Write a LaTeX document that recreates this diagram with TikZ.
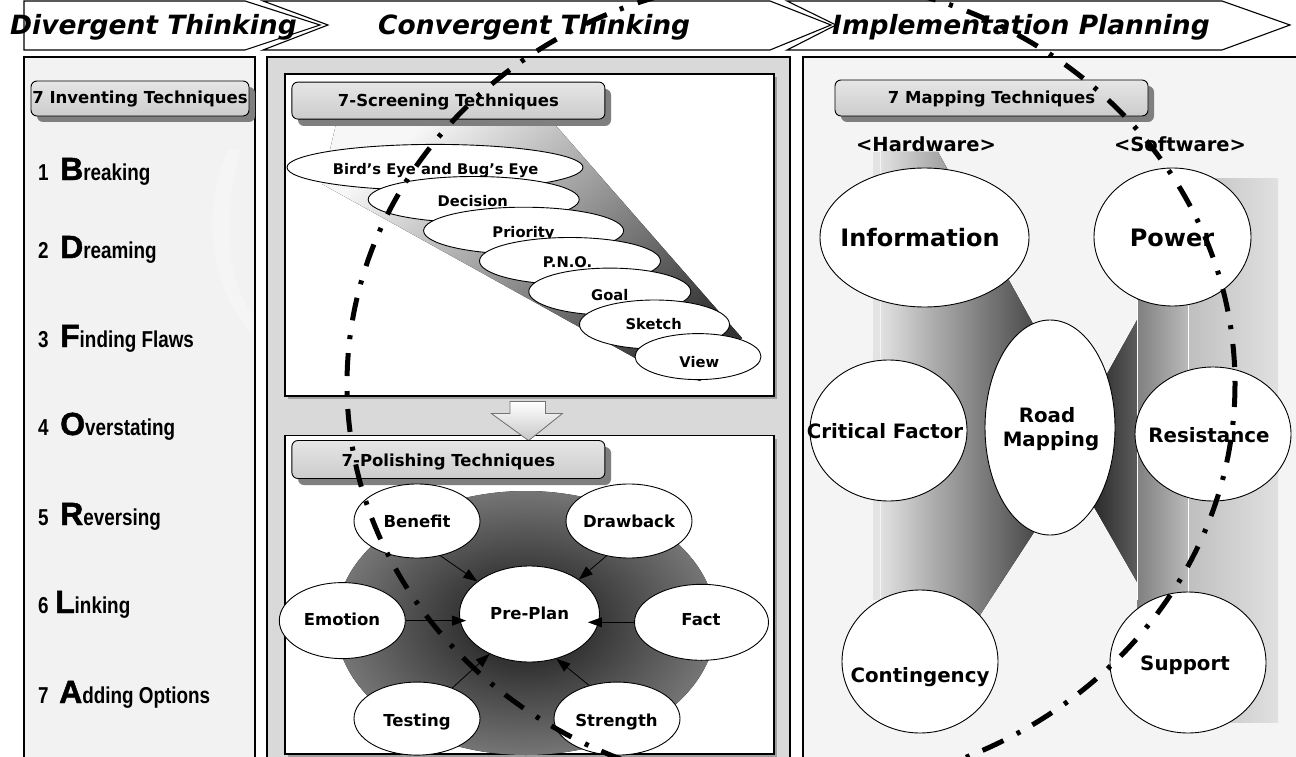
\documentclass[tikz,border=0pt]{standalone}
\usepackage{fontspec}
\setmainfont{DejaVu Sans}
\newfontfamily\narrowfont[FakeStretch=0.82]{Liberation Sans}
\newfontface\bigface[FakeBold=1.5]{Liberation Sans Bold}
\usetikzlibrary{shapes.geometric,arrows.meta}
\definecolor{lpanel}{HTML}{F2F2F2}
\definecolor{mpanel}{HTML}{D9D9D9}
\definecolor{rpanel}{HTML}{F4F4F4}
\definecolor{tshad}{HTML}{7F7F7F}
\pgfdeclareradialshading{glow}{\pgfpoint{0bp}{0bp}}{color(0bp)=(black!85); color(8bp)=(black!80); color(50bp)=(black!16)}
\newcommand\hdrfont{\bfseries\itshape\fontsize{26.5}{30}\selectfont}
\newcommand\ttlfont{\bfseries\fontsize{16.5}{18}\selectfont}
\newcommand\scrfont{\bfseries\fontsize{14.7}{16}\selectfont}
\newcommand\bigmapfont{\bfseries\fontsize{24}{26}\selectfont}
\newcommand\mapfont{\bfseries\fontsize{19.8}{22}\selectfont}
\newcommand\listitem[3]{\narrowfont\bfseries\fontsize{23}{23}\selectfont\makebox[#1][l]{#2}{\bigface\fontsize{32}{32}\selectfont #3}}
\begin{document}
\begin{tikzpicture}[x=1pt,y=-1pt,
  ell/.style={ellipse, draw=black, fill=white, line width=0.9pt, inner sep=0pt},
  hdr/.style={draw=black, fill=white, line width=1.1pt, line join=miter},
  panel/.style={draw=black, line width=2.2pt},
  tbox/.style={rectangle, draw=black, top color=black!10, bottom color=black!20, rounded corners=6pt, line width=0.9pt, inner sep=0pt},
  tshadow/.style={fill=tshad, rounded corners=6pt},
  lbl/.style={inner sep=0pt, anchor=base},
  parr/.style={line width=0.8pt, -{Triangle[length=14pt,width=10pt]}},
  wbox/.style={draw=black, fill=white, line width=1.1pt},
  bshadow/.style={fill=gray!75}
]
\useasboundingbox (0,0) rectangle (1296,757);
\clip (0,0) rectangle (1296,757);
\fill[white] (0,0) rectangle (1296,757);

% ---------------- header chevrons ----------------
\draw[hdr] (24,1) -- (245,1) -- (320,25) -- (245,50) -- (24,50) -- cycle;
\draw[hdr] (263,1) -- (770,1) -- (831,25) -- (770,50) -- (263,50) -- (328,25) -- cycle;
\draw[hdr] (787,1) -- (1222,1) -- (1290,25) -- (1222,50) -- (787,50) -- (836,25) -- cycle;
\node[lbl, anchor=base west] (hd1) at (10,35) {\hdrfont Divergent Thinking};
\node[lbl, anchor=base west] (hd2) at (378,35) {\hdrfont Convergent Thinking};
\node[lbl, anchor=base west] (hd3) at (832,35) {\hdrfont Implementation Planning};

% ---------------- panels ----------------
\draw[panel, fill=lpanel] (24,57) rectangle (255,775);
\draw[panel, fill=mpanel] (267,57) rectangle (790,775);
\draw[panel, fill=rpanel] (803,57) rectangle (1310,775);

% faint light swoosh in left panel
\fill[white, opacity=0.3] (228,150) .. controls (200,210) and (210,290) .. (253,335) -- (253,315) .. controls (224,280) and (224,212) .. (240,150) -- cycle;

% ---------------- left panel ----------------
\fill[tshadow] (37,87) rectangle (255,122);
\node[tbox, minimum width=218pt, minimum height=35pt] (invbox) at (140,98.5) {};
\node[lbl] (invtxt) at (140,104) {\ttlfont 7 Inventing Techniques};

\node[lbl, anchor=base west] (i1) at (38,180) {\listitem{22pt}{1}{B}reaking};
\node[lbl, anchor=base west] (i2) at (38,258) {\listitem{22pt}{2}{D}reaming};
\node[lbl, anchor=base west] (i3) at (38,347) {\listitem{22pt}{3}{F}inding Flaws};
\node[lbl, anchor=base west] (i4) at (38,435) {\listitem{22pt}{4}{O}verstating};
\node[lbl, anchor=base west] (i5) at (38,525) {\listitem{22pt}{5}{R}eversing};
\node[lbl, anchor=base west] (i6) at (38,613) {\listitem{17pt}{6}{L}inking};
\node[lbl, anchor=base west] (i7) at (38,703) {\listitem{21pt}{7}{A}dding Options};

% ---------------- middle panel: screening ----------------
\fill[bshadow] (288,77) rectangle (777,399);
\draw[wbox] (285,74) rectangle (774,396);
\fill[top color=black!3, bottom color=black!80, shading angle=40] (337,120) -- (551,120) -- (742,338) -- (700,381) -- (635,358) -- (322,184) -- cycle;
\fill[tshadow] (298,89) rectangle (611,126);
\node[tbox, minimum width=313pt, minimum height=37pt] (scrbox) at (448.4,100.6) {};
\node[lbl] (scrtxt) at (448.4,106.5) {\ttlfont 7-Screening Techniques};

\node[ell, minimum width=296pt, minimum height=46pt] (sc1) at (435,167.4) {};
\node[lbl] (sc1t) at (435.6,175) {\scrfont Bird’s Eye and Bug’s Eye};
\node[ell, minimum width=211pt, minimum height=46pt] (sc2) at (473.7,199.5) {};
\node[lbl] (sc2t) at (472.8,206) {\scrfont Decision};
\node[ell, minimum width=200pt, minimum height=47pt] (sc3) at (523.6,230.7) {};
\node[lbl] (sc3t) at (523.5,237.5) {\scrfont Priority};
\node[ell, minimum width=181pt, minimum height=47pt] (sc4) at (570,261) {};
\node[lbl] (sc4t) at (567.5,267) {\scrfont P.N.O.};
\node[ell, minimum width=162pt, minimum height=47pt] (sc5) at (609.8,291.6) {};
\node[lbl] (sc5t) at (609.8,300) {\scrfont Goal};
\node[ell, minimum width=150pt, minimum height=49pt] (sc6) at (654.5,324.5) {};
\node[lbl] (sc6t) at (653.7,329.4) {\scrfont Sketch};
\node[ell, minimum width=126pt, minimum height=46pt] (sc7) at (698,356.6) {};
\node[lbl] (sc7t) at (699.3,367.6) {\scrfont View};

% ---------------- middle panel: polishing ----------------
\fill[bshadow] (288,439) rectangle (777,760);
\draw[wbox] (285,435.5) rectangle (774,754);
\fill[top color=white, bottom color=black!22, draw=black!55, line width=0.8pt]
  (510,401.5) -- (545.5,401.5) -- (545.5,413.5) -- (562.4,413.5) -- (528.6,440.6) -- (491.4,413.5) -- (510,413.5) -- cycle;
\fill[tshadow] (298,447) rectangle (611,485);
\node[tbox, minimum width=313pt, minimum height=38pt] (polbox) at (448.4,459.5) {};
\node[lbl] (poltxt) at (448.4,466.6) {\ttlfont 7-Polishing Techniques};

\fill[shading=glow] (526,623) ellipse [x radius=190, y radius=132];

\node[ell, minimum width=140pt, minimum height=96pt] (preplan) at (529.5,614) {};
\node[ell, minimum width=126pt, minimum height=74pt] (benefit) at (417,521) {};
\node[ell, minimum width=126pt, minimum height=74pt] (drawback) at (629,521) {};
\node[ell, minimum width=126pt, minimum height=76pt] (emotion) at (342.3,620.6) {};
\node[ell, minimum width=134pt, minimum height=76pt] (fact) at (701.5,622.3) {};
\node[ell, minimum width=126pt, minimum height=73pt] (testing) at (417,718.6) {};
\node[ell, minimum width=126pt, minimum height=73pt] (strength) at (617,718.6) {};
\node[lbl] (preplant) at (529.6,619.7) {\ttlfont Pre-Plan};
\node[lbl] (benefitt) at (417,527.8) {\ttlfont Benefit};
\node[lbl] (drawbackt) at (629,527.8) {\ttlfont Drawback};
\node[lbl] (emotiont) at (342,625.8) {\ttlfont Emotion};
\node[lbl] (factt) at (701,625.8) {\ttlfont Fact};
\node[lbl] (testingt) at (417,726.2) {\ttlfont Testing};
\node[lbl] (strengtht) at (616.5,726.2) {\ttlfont Strength};

\draw[parr] (benefit.-56) -- (preplan.148);
\draw[parr] (drawback.-123) -- (preplan.35);
\draw[parr, shorten >=-7pt] (emotion.east) -- (preplan.west |- emotion.east);
\draw[parr, shorten >=-12pt] (fact.west) -- (preplan.east |- fact.west);
\draw[parr] (testing.41) -- (preplan.-135);
\draw[parr] (strength.130) -- (preplan.-59);

% ---------------- right panel: mapping ----------------
\fill[black!11] (873,152) rectangle (880,600);
\fill[left color=black!12, right color=black!74] (881,152) -- (938,152) -- (1042,340) -- (1042,520) -- (980,615) -- (881,600) -- cycle;
\fill[left color=black!85, right color=black!40] (1165,270) -- (1098,390) -- (1090,500) -- (1160,622) -- (1190,622) -- (1190,270) -- cycle;
\fill[left color=black!50, right color=black!27] (1137,290) rectangle (1188,610);
\fill[left color=black!25, right color=black!12] (1188,178) rectangle (1278,722);
\draw[white, line width=0.8pt] (1137,300) -- (1137,600);
\draw[white, line width=0.8pt] (1188,290) -- (1188,722);

\fill[tshadow] (841,86) rectangle (1154,122);
\node[tbox, minimum width=313pt, minimum height=36pt] (mapbox) at (991.5,98) {};
\node[lbl] (maptxt) at (991.5,104) {\ttlfont 7 Mapping Techniques};

\node[lbl] (hw) at (926,152) {\bfseries\fontsize{19.5}{22}\selectfont <Hardware>};
\node[lbl] (sw) at (1180,152) {\bfseries\fontsize{19.5}{22}\selectfont <Software>};

\node[ell, minimum width=209pt, minimum height=139pt] (info) at (924.5,237.5) {};
\node[ell, minimum width=157pt, minimum height=138pt] (power) at (1172.5,237) {};
\node[ell, minimum width=157pt, minimum height=141pt] (critical) at (888.5,430.5) {};
\node[ell, minimum width=130pt, minimum height=215pt] (road) at (1050,427.5) {};
\node[ell, minimum width=156pt, minimum height=134pt] (resist) at (1213,434) {};
\node[ell, minimum width=156pt, minimum height=143pt] (conting) at (920,661.5) {};
\node[ell, minimum width=156pt, minimum height=141pt] (support) at (1188,662.5) {};

\node[lbl] (infot) at (920,246) {\bigmapfont Information};
\node[lbl] (powert) at (1172,246) {\bigmapfont Power};
\node[lbl] (criticalt) at (885,438) {\mapfont Critical Factor};
\node[lbl] (roadt1) at (1047,422) {\mapfont Road};
\node[lbl] (roadt2) at (1051,446) {\mapfont Mapping};
\node[lbl] (resistt) at (1209,442) {\mapfont Resistance};
\node[lbl] (contingt) at (920,682) {\mapfont Contingency};
\node[lbl] (supportt) at (1185,670) {\mapfont Support};

% ---------------- big dash-dot ellipse ----------------
\draw[black, line width=5pt, dash pattern=on 23pt off 14pt on 4pt off 15pt] (791,384) ellipse [x radius=444, y radius=406];
\end{tikzpicture}
\end{document}
